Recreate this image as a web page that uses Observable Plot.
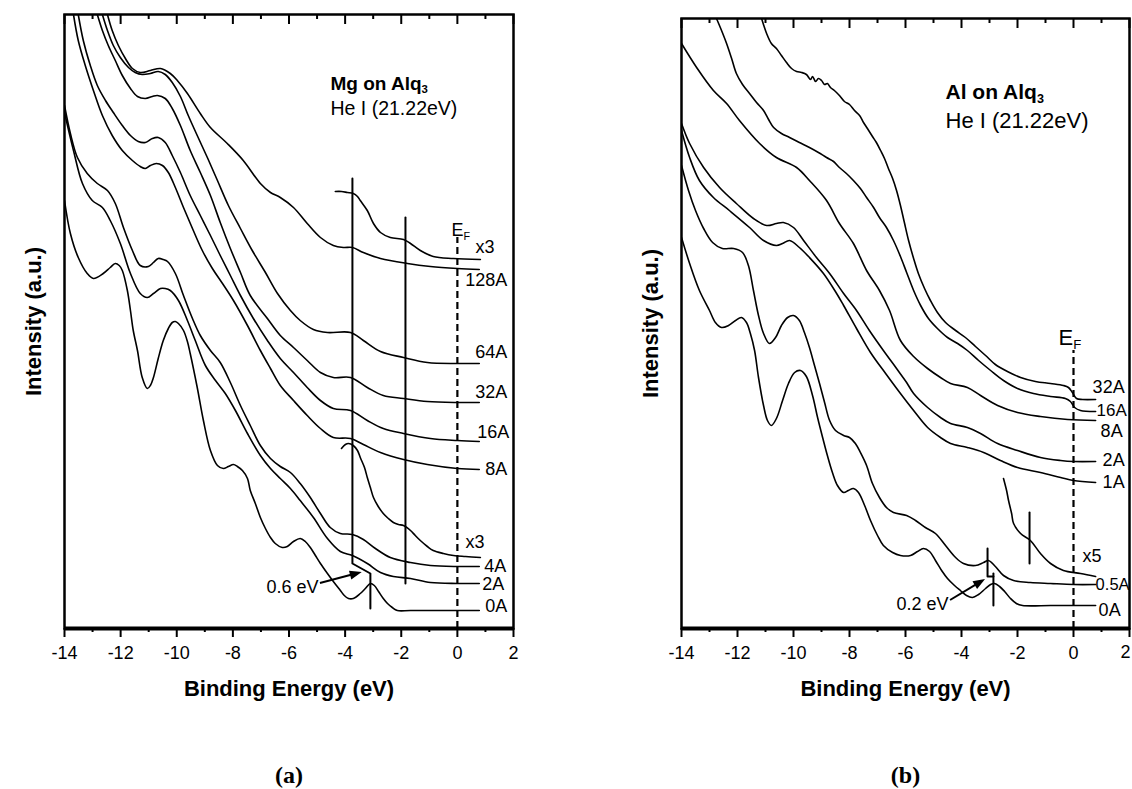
<!DOCTYPE html>
<html>
<head>
<meta charset="utf-8">
<script src="https://cdn.jsdelivr.net/npm/d3@7"></script>
<script src="https://cdn.jsdelivr.net/npm/@observablehq/plot@0.6"></script>
<style>
  html, body { margin: 0; padding: 0; background: #fff; }
  #wrap { position: relative; width: 1132px; height: 789px; overflow: hidden; background: #fff; }
  .panel { position: absolute; top: 0; }
</style>
</head>
<body>
<div id="wrap">
  <div id="pa" class="panel" style="left:0px"></div>
  <div id="pb" class="panel" style="left:566px"></div>
</div>
<script>
// Binding-energy ticks (eV)
const majorTicks = [-14, -12, -10, -8, -6, -4, -2, 0, 2];
const minorTicks = [-13, -11, -9, -7, -5, -3, -1, 1];

// ---- (a) Mg on Alq3: UPS spectra, [binding energy (eV), intensity (a.u.)] ----
const mg0A = [[-14.0,428],[-13.79,395],[-13.51,371],[-13.19,355],[-12.97,350],[-12.62,355],[-12.37,361],[-12.19,365],[-12.05,363],[-11.94,358],[-11.76,338],[-11.65,318],[-11.55,298],[-11.40,278],[-11.23,251],[-11.05,240],[-10.94,243],[-10.83,251],[-10.66,270],[-10.48,288],[-10.30,300],[-10.16,306],[-10.05,307],[-9.94,305],[-9.76,298],[-9.62,287],[-9.52,275],[-9.27,241],[-9.05,208],[-8.80,178],[-8.55,163],[-8.34,160],[-8.16,162],[-7.98,164],[-7.84,162],[-7.66,158],[-7.48,150],[-7.38,138],[-7.20,125],[-7.02,111],[-6.84,100],[-6.66,91],[-6.49,85],[-6.24,81],[-6.06,82],[-5.84,87],[-5.60,90],[-5.42,87],[-5.24,81],[-5.06,73],[-4.88,65],[-4.63,55],[-4.42,47],[-4.17,38],[-4.03,33],[-3.88,30],[-3.71,30],[-3.46,35],[-3.28,40],[-3.10,45],[-2.96,43],[-2.81,37],[-2.64,30],[-2.49,25],[-2.32,21],[-2.14,18],[-1.67,18],[0,18],[0.78,18]];
const mg2A = [[-14.0,516],[-13.68,478],[-13.36,445],[-13.01,428],[-12.65,421],[-12.37,408],[-12.01,385],[-11.65,355],[-11.30,335],[-11.05,331],[-10.83,335],[-10.58,340],[-10.41,340],[-10.23,338],[-9.94,328],[-9.62,308],[-9.34,288],[-8.98,263],[-8.62,248],[-8.27,235],[-7.91,218],[-7.48,195],[-7.02,173],[-6.66,160],[-6.31,150],[-5.95,140],[-5.60,128],[-5.13,111],[-4.63,90],[-4.17,77],[-3.74,73],[-3.21,65],[-2.74,56],[-2.28,52],[-1.67,50],[-0.96,46],[0,45],[0.78,45]];
const mg4A = [[-14.0,523],[-13.79,495],[-13.54,471],[-13.19,455],[-12.83,445],[-12.47,438],[-12.19,425],[-11.90,401],[-11.58,378],[-11.30,363],[-11.01,362],[-10.83,366],[-10.66,370],[-10.48,369],[-10.33,367],[-10.05,355],[-9.76,333],[-9.44,310],[-9.16,293],[-8.80,278],[-8.45,266],[-8.09,246],[-7.73,223],[-7.38,203],[-7.02,183],[-6.66,170],[-6.31,162],[-5.95,156],[-5.60,145],[-5.24,131],[-4.88,115],[-4.53,101],[-4.17,95],[-3.74,94],[-3.35,89],[-2.92,80],[-2.39,71],[-1.67,66],[-0.96,63],[0,62],[0.78,62]];
const mg4Ax3 = [[-4.13,180],[-3.99,184],[-3.88,185],[-3.71,183],[-3.56,178],[-3.46,171],[-3.31,161],[-3.21,151],[-3.10,141],[-2.99,131],[-2.82,122],[-2.64,115],[-2.46,110],[-2.28,106],[-2.10,104],[-1.92,103],[-1.67,98],[-1.50,93],[-1.32,88],[-1.07,82],[-0.86,78],[-0.50,75],[-0.14,73],[0.29,72],[0.82,71]];
const mg8A = [[-13.68,614],[-13.51,588],[-13.26,563],[-12.97,538],[-12.65,513],[-12.30,493],[-11.94,478],[-11.58,468],[-11.30,462],[-11.12,460],[-10.94,463],[-10.73,465],[-10.51,463],[-10.30,456],[-10.05,441],[-9.76,421],[-9.44,400],[-9.09,378],[-8.73,360],[-8.37,345],[-7.98,328],[-7.48,303],[-7.02,278],[-6.66,260],[-6.31,243],[-5.84,228],[-5.35,213],[-4.88,200],[-4.42,191],[-3.81,190],[-3.35,184],[-2.74,176],[-1.92,169],[-1.07,164],[0,160],[0.78,159]];
const mg16A = [[-13.51,614],[-13.33,588],[-13.08,563],[-12.83,543],[-12.54,528],[-12.26,516],[-11.94,503],[-11.65,493],[-11.37,487],[-11.12,486],[-10.87,490],[-10.66,491],[-10.41,486],[-10.16,473],[-9.87,456],[-9.52,433],[-9.16,413],[-8.80,393],[-8.45,373],[-8.09,353],[-7.73,333],[-7.27,310],[-6.77,288],[-6.31,270],[-5.84,256],[-5.35,241],[-4.88,228],[-4.42,220],[-3.81,218],[-3.21,208],[-2.64,200],[-1.92,195],[-0.96,190],[0,188],[0.78,187]];
const mg32A = [[-12.83,614],[-12.65,598],[-12.44,583],[-12.19,568],[-11.94,553],[-11.65,540],[-11.40,532],[-11.12,530],[-10.87,532],[-10.69,533],[-10.41,530],[-10.16,520],[-9.87,503],[-9.52,478],[-9.16,456],[-8.80,433],[-8.45,406],[-8.09,380],[-7.73,356],[-7.38,333],[-6.77,310],[-6.31,293],[-5.84,281],[-5.35,268],[-4.88,256],[-4.42,251],[-3.81,251],[-3.21,241],[-2.64,233],[-1.92,230],[-1.07,227],[0,226],[0.78,226]];
const mg64A = [[-12.65,614],[-12.47,598],[-12.26,583],[-12.01,571],[-11.72,561],[-11.48,556],[-11.23,554],[-10.94,555],[-10.66,557],[-10.41,554],[-10.16,546],[-9.87,532],[-9.59,513],[-9.27,493],[-8.91,471],[-8.55,448],[-8.16,423],[-7.73,400],[-7.31,378],[-6.84,356],[-6.41,335],[-5.95,318],[-5.60,308],[-5.13,299],[-4.63,296],[-3.81,296],[-3.35,288],[-2.74,277],[-1.92,271],[-1.07,266],[0,265],[0.78,265]];
const mg128A = [[-12.47,614],[-12.30,598],[-12.08,583],[-11.83,570],[-11.58,560],[-11.30,556],[-10.94,558],[-10.58,560],[-10.23,555],[-9.98,548],[-9.62,535],[-9.16,515],[-8.80,501],[-8.20,485],[-7.63,468],[-7.02,445],[-6.66,436],[-6.31,431],[-5.84,421],[-5.35,405],[-4.88,391],[-4.42,383],[-4.06,381],[-3.74,381],[-3.35,376],[-2.74,370],[-1.78,365],[-0.96,362],[0,360],[0.78,359]];
const mg128Ax3 = [[-4.35,437],[-4.13,437],[-3.92,436],[-3.71,435],[-3.56,432],[-3.46,428],[-3.21,418],[-2.99,405],[-2.74,396],[-2.39,391],[-1.92,389],[-1.67,385],[-1.32,378],[-0.86,372],[-0.14,370],[0.82,369]];

// Edge / shift markers for (a): [eV, a.u.] vertices
const mgShiftMarker = [[-3.74,450],[-3.74,65],[-3.10,55],[-3.10,20]];
const mgEdgeMarker = [[-1.85,411],[-1.85,45]];
const mgShiftArrow = {x1: -4.88, y1: 45, x2: -3.39, y2: 56, text: "0.6 eV"};

// ---- (b) Al on Alq3 ----
const al0A = [[-14.0,391],[-13.71,365],[-13.36,338],[-13.0,318],[-12.79,306],[-12.57,301],[-12.32,303],[-12.07,308],[-11.86,311],[-11.68,306],[-11.54,295],[-11.39,278],[-11.25,251],[-11.07,223],[-10.93,208],[-10.79,203],[-10.61,210],[-10.39,228],[-10.18,245],[-9.96,256],[-9.75,258],[-9.54,252],[-9.32,233],[-9.14,211],[-8.96,191],[-8.79,173],[-8.61,156],[-8.43,143],[-8.21,136],[-8.04,138],[-7.86,140],[-7.68,136],[-7.46,123],[-7.25,108],[-7.0,93],[-6.79,83],[-6.46,76],[-6.18,73],[-5.82,73],[-5.57,77],[-5.36,80],[-5.14,77],[-4.93,68],[-4.71,58],[-4.5,50],[-4.25,43],[-4.04,38],[-3.82,33],[-3.61,31],[-3.39,34],[-3.14,40],[-2.96,44],[-2.82,45],[-2.64,42],[-2.46,37],[-2.25,30],[-2.04,25],[-1.82,23],[-0.82,23],[0,23],[0.79,23]];
const al05A = [[-14.0,463],[-13.75,438],[-13.5,418],[-13.21,400],[-12.89,386],[-12.54,380],[-12.14,380],[-11.82,376],[-11.61,363],[-11.43,338],[-11.25,313],[-11.07,295],[-10.86,285],[-10.64,291],[-10.43,303],[-10.21,311],[-10.0,313],[-9.79,308],[-9.61,296],[-9.43,281],[-9.25,263],[-9.07,245],[-8.89,226],[-8.71,208],[-8.5,198],[-8.21,193],[-8.0,191],[-7.79,185],[-7.61,176],[-7.39,163],[-7.18,145],[-6.93,131],[-6.68,121],[-6.43,116],[-5.96,113],[-5.64,108],[-5.29,101],[-4.93,95],[-4.57,83],[-4.21,71],[-3.93,65],[-3.5,63],[-3.21,66],[-3.04,68],[-2.79,62],[-2.5,53],[-2.14,48],[-1.54,46],[-0.82,45],[0,44],[0.79,44]];
const al05Ax5 = [[-2.5,150],[-2.39,138],[-2.32,128],[-2.21,115],[-2.14,105],[-1.89,95],[-1.54,88],[-1.18,75],[-0.82,65],[-0.36,58],[0.25,55],[0.79,52]];
const al1A = [[-14.0,498],[-13.71,471],[-13.36,448],[-12.86,431],[-12.29,418],[-11.57,401],[-11.07,388],[-10.61,383],[-10.39,385],[-10.14,388],[-9.79,381],[-9.43,371],[-8.93,355],[-8.46,335],[-8.21,323],[-7.75,300],[-7.25,276],[-6.71,255],[-6.18,235],[-5.71,218],[-5.21,201],[-4.75,191],[-4.39,185],[-3.79,181],[-3.21,176],[-2.61,168],[-2.0,161],[-1.18,156],[-0.46,151],[0,148],[0.79,146]];
const al2A = [[-14.0,505],[-13.71,485],[-13.21,461],[-12.64,441],[-12.04,425],[-11.43,410],[-10.96,403],[-10.61,405],[-10.36,406],[-10.0,401],[-9.64,388],[-9.18,371],[-8.71,355],[-8.21,335],[-7.75,318],[-7.29,298],[-6.79,278],[-6.32,260],[-5.96,246],[-5.71,235],[-5.21,221],[-4.75,211],[-4.39,205],[-3.79,201],[-3.32,195],[-2.71,185],[-2.0,178],[-1.18,171],[-0.46,168],[0,167],[0.79,167]];
const al8A = [[-14.0,585],[-13.46,561],[-12.86,538],[-12.39,525],[-11.93,508],[-11.21,485],[-10.61,471],[-9.89,461],[-9.43,448],[-8.82,428],[-8.36,405],[-7.86,385],[-7.39,358],[-6.93,338],[-6.57,318],[-6.18,288],[-5.71,272],[-5.21,260],[-4.75,251],[-4.39,245],[-3.79,241],[-3.32,233],[-2.71,223],[-2.0,216],[-1.18,212],[-0.21,209],[0.79,208]];
const al16A = [[-12.75,610],[-12.57,598],[-12.39,585],[-12.21,570],[-12.04,555],[-11.82,544],[-11.57,535],[-11.32,526],[-11.07,518],[-10.89,509],[-10.71,501],[-10.43,495],[-10.14,491],[-9.79,486],[-9.43,481],[-9.11,476],[-8.82,471],[-8.57,467],[-8.36,461],[-8.11,455],[-7.86,448],[-7.61,440],[-7.39,431],[-7.14,421],[-6.93,411],[-6.68,401],[-6.43,388],[-6.18,372],[-5.96,356],[-5.71,338],[-5.46,323],[-5.18,310],[-4.86,300],[-4.5,291],[-4.14,285],[-3.79,278],[-3.39,268],[-2.96,258],[-2.5,248],[-2.0,240],[-1.43,235],[-0.82,232],[-0.29,230],[-0.11,227],[0.04,221],[0.25,218],[0.79,217]];
const al32A = [[-11.14,610],[-10.96,595],[-10.79,585],[-10.61,580],[-10.43,573],[-10.25,566],[-10.07,560],[-9.89,557],[-9.71,556],[-9.54,554],[-9.39,549],[-9.32,552],[-9.21,547],[-9.11,550],[-9.0,548],[-8.89,544],[-8.79,545],[-8.68,541],[-8.54,538],[-8.36,533],[-8.18,527],[-8.0,524],[-7.82,518],[-7.64,513],[-7.5,506],[-7.36,500],[-7.18,492],[-7.04,486],[-6.89,478],[-6.75,470],[-6.61,460],[-6.46,450],[-6.32,438],[-6.18,423],[-6.04,406],[-5.89,388],[-5.71,370],[-5.54,355],[-5.32,340],[-5.11,328],[-4.86,316],[-4.57,306],[-4.21,298],[-3.86,291],[-3.5,282],[-3.14,273],[-2.79,264],[-2.36,257],[-1.89,251],[-1.36,247],[-0.82,245],[-0.36,243],[-0.18,241],[-0.04,236],[0.11,230],[0.32,229],[0.79,229]];

// Shift / edge markers for (b)
const alShiftMarkerA = [[-3.07,80],[-3.07,52],[-2.86,52]];
const alShiftMarkerB = [[-2.86,55],[-2.86,23]];
const alEdgeMarker = [[-1.57,116],[-1.57,65]];
const alShiftArrow = {x1: -4.39, y1: 28, x2: -3.14, y2: 49, text: "0.2 eV"};

const sansFont = "'Liberation Sans', Arial, Helvetica, sans-serif";
const serifFont = "'Liberation Serif', 'Times New Roman', serif";
const SVGNS = "http://www.w3.org/2000/svg";

// Turn a trailing "_x" in a text node into a subscript
function applySubscripts(svg) {
  d3.select(svg).selectAll("text").each(function () {
    if (this.querySelector("tspan")) return;
    const m = /^(.*)_(.)$/.exec(this.textContent);
    if (!m) return;
    this.textContent = m[1];
    d3.select(this).append("tspan").attr("dy", "0.3em").attr("font-size", "0.6em").text(m[2]);
  });
}

// Arrow with a filled head: shaft stops at the head's base
function shiftArrow(a) {
  const len = 12, half = 4.5;
  return (index, scales) => {
    if (!scales || !scales.x || !scales.y) return null;
    const x1 = scales.x(a.x1), y1 = scales.y(a.y1), x2 = scales.x(a.x2), y2 = scales.y(a.y2);
    const ang = Math.atan2(y2 - y1, x2 - x1);
    const bx = x2 - len * Math.cos(ang), by = y2 - len * Math.sin(ang);
    const px = -Math.sin(ang) * half, py = Math.cos(ang) * half;
    const g = document.createElementNS(SVGNS, "g");
    const shaft = document.createElementNS(SVGNS, "line");
    shaft.setAttribute("x1", x1); shaft.setAttribute("y1", y1);
    shaft.setAttribute("x2", bx + Math.cos(ang)); shaft.setAttribute("y2", by + Math.sin(ang));
    shaft.setAttribute("stroke", "black"); shaft.setAttribute("stroke-width", 2);
    const poly = document.createElementNS(SVGNS, "polygon");
    poly.setAttribute("points", `${x2},${y2} ${bx + px},${by + py} ${bx - px},${by - py}`);
    poly.setAttribute("fill", "black");
    g.appendChild(shaft); g.appendChild(poly);
    return g;
  };
}

function drawPanel(el, cfg) {
  const rows = cfg.curves.flatMap(([name, pts]) => pts.map(([e, i]) => ({name, e, i})));
  const top = cfg.yMax;
  // Tick labels drawn by the axis; the outermost one can be drawn separately, nudged inside the page edge
  const axisLabelTicks = cfg.nudgeLastTick ? majorTicks.slice(0, -1) : majorTicks;
  const marks = [
    Plot.line(rows, {x: "e", y: "i", z: "name", curve: "catmull-rom", stroke: "black", strokeWidth: 1.6, clip: true}),
    ...cfg.markers.map(m => Plot.line(m, {x: d => d[0], y: d => d[1], stroke: "black", strokeWidth: 2})),
    shiftArrow(cfg.arrow),
    Plot.text([cfg.arrow], {x: "x1", y: "y1", text: "text", textAnchor: "end", dx: -2, dy: 4, fontSize: 18}),
    Plot.ruleX([0], {y1: () => 0, y2: () => cfg.efTop, stroke: "black", strokeWidth: 2.2, strokeDasharray: "7,4"}),
    Plot.text(["E_F"], {x: () => 0, y: () => cfg.efLabelI, text: d => d, textAnchor: "start", dx: cfg.efDx, fontSize: cfg.efSize}),
    Plot.frame({stroke: "black", strokeWidth: 2.5}),
    Plot.ruleY([0], {stroke: "black", strokeWidth: 4}),
    Plot.axisX({ticks: majorTicks, tickSize: 9, tickPadding: 9, tickFormat: d => axisLabelTicks.includes(d) ? String(d) : "", fontSize: 18, strokeWidth: 2, label: null}),
    Plot.axisX({ticks: minorTicks, tickSize: 4, tickFormat: () => "", strokeWidth: 2, label: null}),
    ...(cfg.nudgeLastTick ? [Plot.text([majorTicks[majorTicks.length - 1]], {x: d => d, text: d => String(d), frameAnchor: "bottom", lineAnchor: "middle", dy: 24, dx: -4, fontSize: 18})] : []),
    Plot.ruleX(majorTicks, {x: d => d, y1: () => top, y2: () => top - 10, stroke: "black", strokeWidth: 2}),
    Plot.ruleX(minorTicks, {x: d => d, y1: () => top, y2: () => top - 5, stroke: "black", strokeWidth: 2}),
    Plot.text(["Binding Energy (eV)"], {text: d => d, frameAnchor: "bottom", textAnchor: "middle", lineAnchor: "middle", dy: 60, fontWeight: "bold", fontSize: 22}),
    Plot.text(["Intensity (a.u.)"], {text: d => d, frameAnchor: "left", textAnchor: "middle", lineAnchor: "middle", dx: -31, rotate: -90, fontWeight: "bold", fontSize: 22}),
    Plot.text([cfg.tag], {text: d => d, frameAnchor: "bottom", textAnchor: "middle", lineAnchor: "middle", dy: 147, fontWeight: "bold", fontSize: 24, fontFamily: serifFont}),
    Plot.text([cfg.title], {text: d => d, frameAnchor: "top-left", textAnchor: "start", lineAnchor: "middle", dx: cfg.titleDx, dy: cfg.titleDy[0], fontWeight: "bold", fontSize: cfg.titleSize[0]}),
    Plot.text([cfg.source], {text: d => d, frameAnchor: "top-left", textAnchor: "start", lineAnchor: "middle", dx: cfg.titleDx, dy: cfg.titleDy[1], fontSize: cfg.titleSize[1]}),
    ...cfg.labels.map(([text, pts, dx, dy, size]) =>
      Plot.text([pts[pts.length - 1]], {x: d => d[0], y: d => d[1], text: () => text, textAnchor: "start", dx, dy, fontSize: size || 18}))
  ];
  const svg = Plot.plot({
    width: 566,
    height: 789,
    marginLeft: cfg.marginLeft,
    marginRight: cfg.marginRight,
    marginTop: cfg.marginTop,
    marginBottom: 161,
    x: {domain: [-14, 2], label: null},
    y: {domain: [0, top], axis: null, label: null},
    style: {fontFamily: sansFont, fontSize: "18px", background: "white", color: "black"},
    marks
  });
  applySubscripts(svg);
  el.appendChild(svg);
}

drawPanel(document.getElementById("pa"), {
  marginLeft: 64, marginRight: 53, marginTop: 14, yMax: 614,
  curves: [["0A", mg0A], ["2A", mg2A], ["4A", mg4A], ["4A x3", mg4Ax3], ["8A", mg8A], ["16A", mg16A], ["32A", mg32A], ["64A", mg64A], ["128A", mg128A], ["128A x3", mg128Ax3]],
  markers: [mgShiftMarker, mgEdgeMarker],
  arrow: mgShiftArrow,
  efTop: 391, efLabelI: 398, efDx: -6, efSize: 18,
  tag: "(a)",
  title: "Mg on Alq_3", source: "He I (21.22eV)",
  titleDx: 266, titleDy: [69, 94], titleSize: [19, 19.5],
  labels: [["x3", mg128Ax3, -5, -12], ["128A", mg128A, -14, 11], ["64A", mg64A, -4, -11], ["32A", mg32A, -4, -10], ["16A", mg16A, -2, -9], ["8A", mg8A, 6, 0], ["x3", mg4Ax3, -15, -15], ["4A", mg4A, 5, 0], ["2A", mg2A, 3, 1], ["0A", mg0A, 6, -4]]
});

drawPanel(document.getElementById("pb"), {
  marginLeft: 115, marginRight: 3, marginTop: 18, yMax: 610, nudgeLastTick: true,
  curves: [["0A", al0A], ["0.5A", al05A], ["0.5A x5", al05Ax5], ["1A", al1A], ["2A", al2A], ["8A", al8A], ["16A", al16A], ["32A", al32A]],
  markers: [alShiftMarkerA, alShiftMarkerB, alEdgeMarker],
  arrow: alShiftArrow,
  efTop: 278, efLabelI: 291, efDx: -15, efSize: 22,
  tag: "(b)",
  title: "Al on Alq_3", source: "He I (21.22eV)",
  titleDx: 264, titleDy: [74, 102], titleSize: [21, 22],
  labels: [["32A", al32A, -3, -12], ["16A", al16A, 1, -1, 17], ["8A", al8A, 5, 11], ["2A", al2A, 7, -1], ["1A", al1A, 7, 0], ["x5", al05Ax5, -13, -20], ["0.5A", al05A, 0, 0, 16.5], ["0A", al0A, 3, 5]]
});
</script>
</body>
</html>
